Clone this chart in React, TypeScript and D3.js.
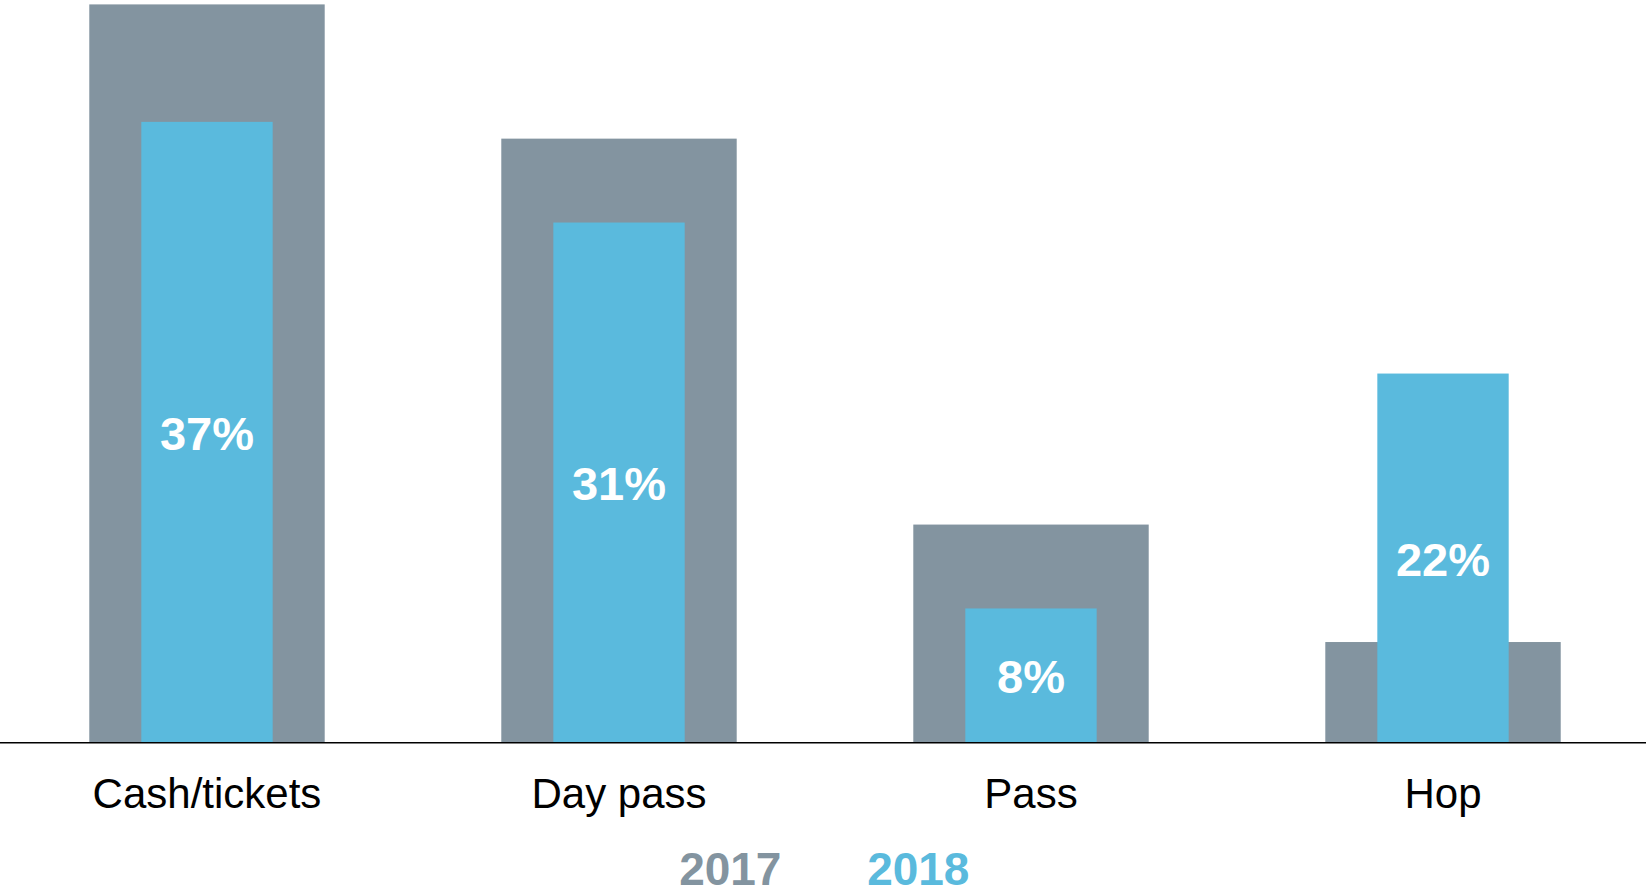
import { useEffect, useRef } from "react"
import * as d3 from "d3"

const categories = ["Cash/tickets", "Day pass", "Pass", "Hop"]
const values2017 = [44, 36, 13, 6]
const values2018 = [37, 31, 8, 22]
const years = ["2017", "2018"]

const GREY = "#8394a0"
const BLUE = "#5abadd"

const App = () => {
  const svgRef = useRef<SVGSVGElement>(null)

  useEffect(() => {
    const width = 1646
    const height = 895
    const baseY = 742.7

    const svg = d3.select(svgRef.current)
    svg.selectAll("*").remove()

    const font = "'Liberation Sans', Arial, sans-serif"

    // band for the wide 2017 bars
    const x = d3.scaleBand<string>()
      .domain(categories)
      .range([0.7, 1649.3])
      .paddingInner(0.4286)
      .paddingOuter(0.215)

    const y = d3.scaleLinear().domain([0, 44]).range([baseY, 4.4])

    const inset = x.bandwidth() * 0.221
    const innerW = x.bandwidth() - 2 * inset

    const rows = categories.map((c, i) => ({ cat: c, v17: values2017[i], v18: values2018[i] }))

    svg.append("g")
      .selectAll("rect")
      .data(rows)
      .join("rect")
      .attr("x", d => x(d.cat)!)
      .attr("y", d => y(d.v17))
      .attr("width", x.bandwidth())
      .attr("height", d => y(0) - y(d.v17))
      .attr("fill", GREY)

    svg.append("g")
      .selectAll("rect")
      .data(rows)
      .join("rect")
      .attr("x", d => x(d.cat)! + inset)
      .attr("y", d => y(d.v18))
      .attr("width", innerW)
      .attr("height", d => y(0) - y(d.v18))
      .attr("fill", BLUE)

    // value labels, centred in the blue bars
    svg.append("g")
      .selectAll("text")
      .data(rows)
      .join("text")
      .attr("x", d => x(d.cat)! + x.bandwidth() / 2)
      .attr("y", d => (y(d.v18) + y(0)) / 2 + 17.5)
      .attr("text-anchor", "middle")
      .attr("fill", "#fff")
      .style("font-family", font)
      .style("font-weight", "bold")
      .style("font-size", "47px")
      .text(d => `${d.v18}%`)

    // baseline
    svg.append("line")
      .attr("x1", 0)
      .attr("x2", width)
      .attr("y1", baseY)
      .attr("y2", baseY)
      .attr("stroke", "#000")
      .attr("stroke-width", 1.6)

    // category labels
    svg.append("g")
      .selectAll("text")
      .data(categories)
      .join("text")
      .attr("x", d => x(d)! + x.bandwidth() / 2)
      .attr("y", 808)
      .attr("text-anchor", "middle")
      .attr("fill", "#000")
      .style("font-family", font)
      .style("font-size", "42px")
      .text(d => d)

    // legend
    const legendX = d3.scalePoint<string>().domain(years).range([730.3, 918.3])
    const colors = [GREY, BLUE]
    svg.append("g")
      .selectAll("text")
      .data(years)
      .join("text")
      .attr("x", d => legendX(d)!)
      .attr("y", height - 10)
      .attr("text-anchor", "middle")
      .attr("fill", (d, i) => colors[i])
      .style("font-family", font)
      .style("font-weight", "bold")
      .style("font-size", "46px")
      .text(d => d)
  }, [])

  return (
    <svg
      ref={svgRef}
      width={1646}
      height={895}
      style={{ position: "absolute", left: 0, top: 0, background: "#fff" }}
    />
  )
}

export default App
